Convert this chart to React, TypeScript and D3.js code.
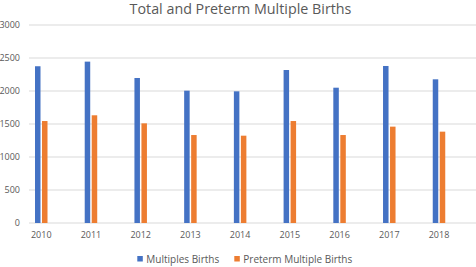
import React from "react";
import * as d3 from "d3";

const years = ["2010", "2011", "2012", "2013", "2014", "2015", "2016", "2017", "2018"];
const multiples = [2375, 2445, 2197, 2005, 1995, 2318, 2050, 2379, 2177];
const preterm = [1545, 1632, 1510, 1333, 1323, 1545, 1333, 1460, 1384];
const yTicks = [0, 500, 1000, 1500, 2000, 2500, 3000];
const seriesNames = ["Multiples Births", "Preterm Multiple Births"];
const colors = ["#4472C4", "#ED7D31"];

const W = 476;
const H = 267;
const font = "'Open Sans', sans-serif";

export default function App() {
  const x = d3.scalePoint<string>().domain(years).range([41.25, 439]);
  const y = d3.scaleLinear().domain([0, 3000]).range([223, 25]);
  const bw = 5.5;
  const gap = 1.5;
  const series = [multiples, preterm];
  return (
    <svg width={W} height={H} style={{ position: "absolute", left: 0, top: 0, background: "#fff" }}>
      <rect width={W} height={H} fill="#fff" />
      <text x={240.5} y={14} textAnchor="middle" fontFamily={font} fontSize={14.3} fill="#595959">
        Total and Preterm Multiple Births
      </text>
      {yTicks.map((t) => (
        <g key={t}>
          <line x1={29} x2={W} y1={y(t)} y2={y(t)} stroke="#d9d9d9" strokeWidth={1} />
          <text x={20} y={y(t)} dy="0.35em" textAnchor="end" fontFamily={font} fontSize={9} fill="#595959">
            {t}
          </text>
        </g>
      ))}
      {series.map((vals, si) =>
        vals.map((v, i) => {
          const c = x(years[i])!;
          const bx = si === 0 ? c - gap / 2 - bw : c + gap / 2;
          return <rect key={si + "-" + i} x={bx} y={y(v)} width={bw} height={y(0) - y(v)} fill={colors[si]} />;
        })
      )}
      {years.map((yr) => (
        <text key={yr} x={x(yr)!} y={238} textAnchor="middle" fontFamily={font} fontSize={9} fill="#595959">
          {yr}
        </text>
      ))}
      {seriesNames.map((n, i) => {
        const lx = i === 0 ? 137.3 : 234.3;
        return (
          <g key={n}>
            <rect x={lx} y={256} width={5.5} height={5.5} fill={colors[i]} />
            <text x={lx + 9} y={262.5} fontFamily={font} fontSize={10} fill="#595959">
              {n}
            </text>
          </g>
        );
      })}
    </svg>
  );
}
